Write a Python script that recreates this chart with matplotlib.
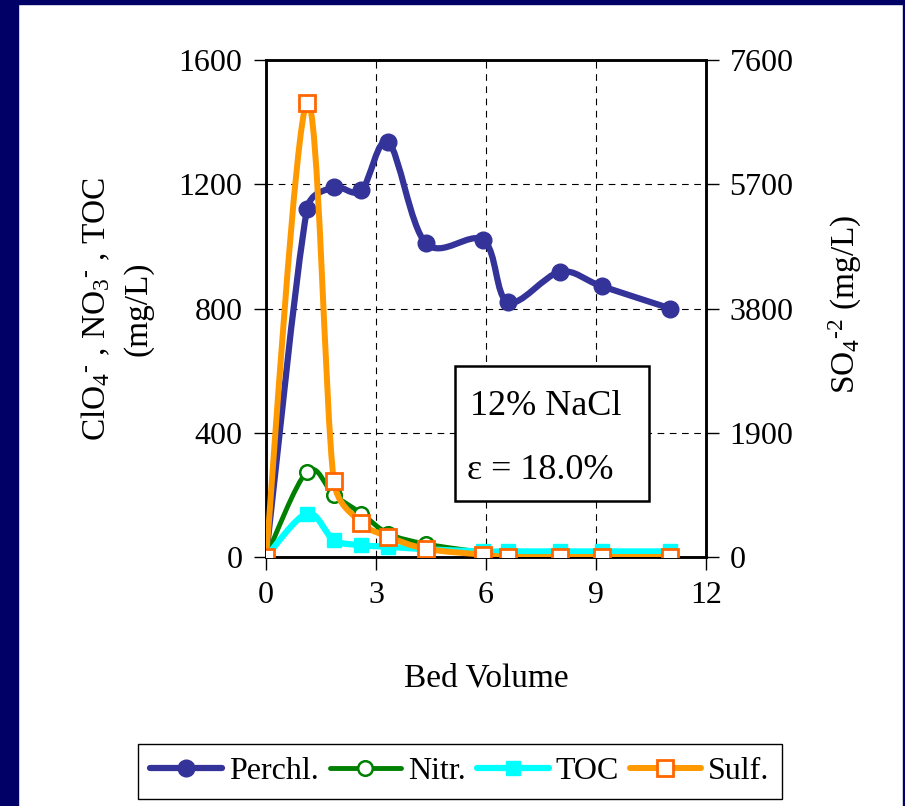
import matplotlib
matplotlib.use("Agg")
import numpy as np
import matplotlib.pyplot as plt
from matplotlib.path import Path
from matplotlib.patches import PathPatch, Rectangle
from matplotlib.lines import Line2D

plt.rcParams["font.family"] = ["Liberation Serif", "DejaVu Serif"]
plt.rcParams["mathtext.fontset"] = "custom"
plt.rcParams["mathtext.rm"] = "Liberation Serif"
plt.rcParams["mathtext.it"] = "Liberation Serif:italic"

# Data
bed_volume = [0, 1.12, 1.85, 2.6, 3.34, 4.36, 5.93, 6.6, 8.02, 9.15, 11.03]
perchl = [0, 1120, 1190, 1180, 1335, 1010, 1020, 820, 918, 872, 800]
nitr = [0, 275, 200, 140, 75, 42, 15, 8, 5, 4, 3]
toc = [0, 140, 55, 38, 33, 25, 18, 18, 18, 18, 18]
sulf = [0, 6950, 1165, 525, 310, 125, 35, 0, 0, 0, 0]

x_ticks = [0, 3, 6, 9, 12]
left_ticks = [0, 400, 800, 1200, 1600]
right_ticks = [0, 1900, 3800, 5700, 7600]


# Excel-style smoothed line: Bezier through every point, tangent capped
# at half the segment length (distances measured in screen pixels)
def smooth_path(x, y, sx, sy):
    p = np.column_stack([np.asarray(x, float) * sx, np.asarray(y, float) * sy])
    n = len(p)
    verts = [tuple(p[0])]
    codes = [Path.MOVETO]
    for i in range(n - 1):
        p0 = p[i - 1] if i > 0 else p[i]
        p1, p2 = p[i], p[i + 1]
        p3 = p[i + 2] if i + 2 < n else p[i + 1]
        d12 = np.hypot(*(p2 - p1))
        d02 = np.hypot(*(p2 - p0))
        d13 = np.hypot(*(p3 - p1))
        f0 = 1 / 6 if d02 / 6 < d12 / 2 else d12 / (2 * d02)
        f3 = 1 / 6 if d13 / 6 < d12 / 2 else d12 / (2 * d13)
        c1 = p1 + (p2 - p0) * f0
        c2 = p2 - (p3 - p1) * f3
        verts += [tuple(c1), tuple(c2), tuple(p2)]
        codes += [Path.CURVE4] * 3
    verts = [(vx / sx, vy / sy) for vx, vy in verts]
    return Path(verts, codes)


def add_series(ax, x, y, sx, sy, color, lw, marker, ms, mfc, mec, mew, z):
    ax.add_patch(PathPatch(smooth_path(x, y, sx, sy), fill=False, edgecolor=color,
                           lw=lw, capstyle="round", joinstyle="round", zorder=z))
    ax.plot(x, y, ls="none", marker=marker, ms=ms, mfc=mfc, mec=mec, mew=mew,
            zorder=z + 0.1)
    return Line2D([], [], color=color, lw=lw, marker=marker, ms=ms, mfc=mfc,
                  mec=mec, mew=mew, solid_capstyle="round")


fig = plt.figure(figsize=(9.05, 8.06), dpi=100)
fig.patch.set_facecolor("white")

# navy frame of the slide
fig.patches.append(Rectangle((0, 0), 18 / 905, 1, transform=fig.transFigure,
                             color="#000066", zorder=0))
fig.patches.append(Rectangle((0, 1 - 4 / 806), 1, 4 / 806, transform=fig.transFigure,
                             color="#000066", zorder=0))
fig.patches.append(Rectangle((1 - 2 / 905, 0), 2 / 905, 1, transform=fig.transFigure,
                             color="#000066", zorder=0))

ax_w, ax_h = 440, 497
ax = fig.add_axes([266 / 905, 1 - 557 / 806, ax_w / 905, ax_h / 806])
ax2 = ax.twinx()

ax.set_xlim(0, 12)
ax.set_ylim(0, 1600)
ax2.set_ylim(0, 7600)

sx = ax_w / 12
sy_left = ax_h / 1600
sy_right = ax_h / 7600

h1 = add_series(ax, bed_volume, perchl, sx, sy_left, "#333399", 4.5, "o", 12,
                "#333399", "#333399", 1, 2)
h2 = add_series(ax, bed_volume, nitr, sx, sy_left, "#008000", 3.5, "o", 10.5,
                "white", "#008000", 1.8, 2.2)
h3 = add_series(ax, bed_volume, toc, sx, sy_left, "#00FFFF", 4.5, "s", 10,
                "#00FFFF", "#00FFFF", 1, 2.4)
h4 = add_series(ax2, bed_volume, sulf, sx, sy_right, "#FF9900", 4.3, "s", 12,
                "white", "#FF6600", 2, 3)

ax.set_xticks(x_ticks)
ax.set_yticks(left_ticks)
ax2.set_yticks(right_ticks)

ax.grid(True, color="black", ls=(0, (6, 5)), lw=0.8)
for a in (ax, ax2):
    for s in a.spines.values():
        s.set_linewidth(1.8)
    a.tick_params(labelsize=23, length=9, width=1, direction="out", pad=8)

ax.set_xlabel("Bed Volume", fontsize=24)
ax.xaxis.set_label_coords(0.5, -0.2435)
ax.xaxis.label.set_va("center")

ax.set_ylabel("ClO$_4$$^{\\text{-}}$ , NO$_3$$^{\\text{-}}$ , TOC\n(mg/L)", fontsize=24,
              linespacing=1.45)
ax.yaxis.set_label_coords(-0.34, 0.5)
ax.yaxis.label.set_va("center")

ax2.set_ylabel("SO$_4$$^{\\text{-2}}$ (mg/L)", fontsize=24, rotation=90)
ax2.yaxis.set_label_coords(1.316, 0.509)
ax2.yaxis.label.set_va("center")

# annotation box
ax.add_patch(Rectangle((0.4295, 0.1127), 0.4405, 0.2716, transform=ax.transAxes,
                       facecolor="white", edgecolor="black", lw=1.8, zorder=5))
ax.text(0.464, 0.302, "12% NaCl", transform=ax.transAxes, fontsize=26,
        va="center", ha="left", zorder=6)
ax.text(0.457, 0.175, "ε = 18.0%", transform=ax.transAxes, fontsize=26,
        va="center", ha="left", zorder=6)

leg = fig.legend([h1, h2, h3, h4], ["Perchl.", "Nitr.", "TOC", "Sulf."],
                 loc="center", bbox_to_anchor=(0.508, 0.0428), ncol=4,
                 fontsize=23, frameon=True, fancybox=False, framealpha=1,
                 edgecolor="black", handlelength=2.25, handletextpad=0.2,
                 columnspacing=0.35, borderpad=0.4, borderaxespad=0)
leg.get_frame().set_linewidth(1)

fig.savefig("out.png", dpi=100)
